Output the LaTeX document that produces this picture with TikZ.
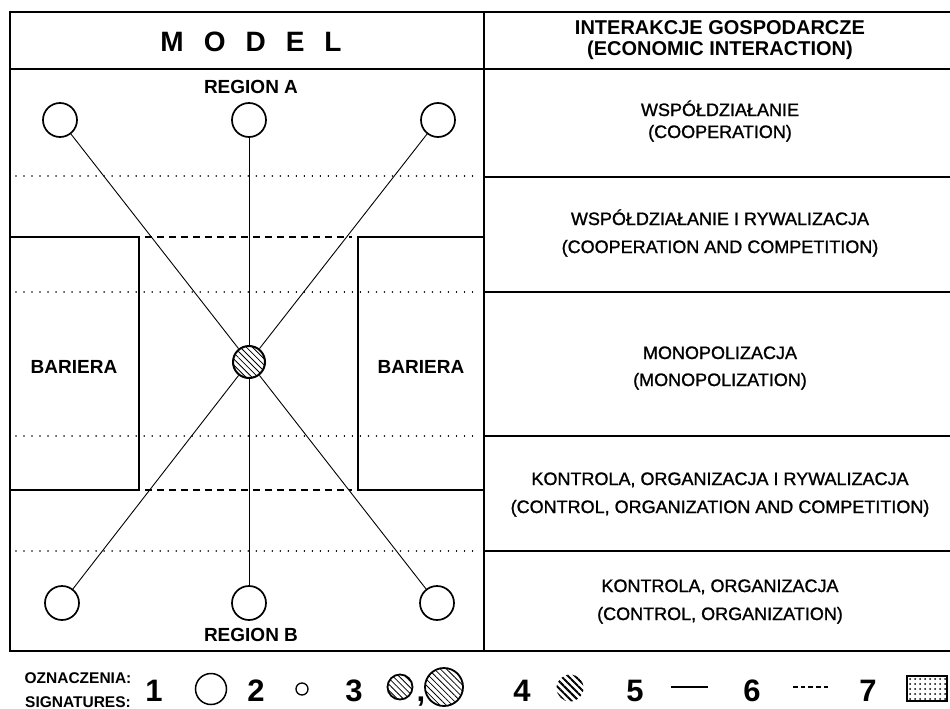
\documentclass[tikz,border=0pt]{standalone}
\usepackage{fontspec}
\setmainfont{Liberation Sans}
\newfontfamily\semib[FakeBold=1.2]{Liberation Sans}
\usetikzlibrary{patterns.meta}
\begin{document}
\begin{tikzpicture}[x=1pt,y=-1pt,
  frame/.style={line width=2.4pt},
  rowline/.style={line width=1.4pt},
  barbox/.style={draw,line width=2pt},
  reg/.style={circle,draw,line width=1.7pt,minimum size=34pt,inner sep=0pt,fill=white},
  link/.style={line width=0.9pt},
  dotline/.style={line width=1.6pt,dash pattern=on 0.01pt off 8pt,line cap=round},
  dashline/.style={line width=1.8pt,dash pattern=on 7pt off 5pt},
  hatch/.style={circle,draw,inner sep=0pt,preaction={fill=white},pattern={Lines[angle=-45,distance=4.3pt,line width=0.8pt]}},
  lbl/.style={font=\bfseries\fontsize{19}{22}\selectfont,anchor=base,inner sep=0pt},
  head/.style={font=\bfseries\fontsize{20}{22}\selectfont,anchor=base,inner sep=0pt},
  rtxt/.style={font=\semib\fontsize{18}{21}\selectfont,anchor=base,inner sep=0pt},
  num/.style={font=\bfseries\fontsize{31}{33}\selectfont,anchor=base,inner sep=0pt},
  leg/.style={font=\bfseries\fontsize{15.5}{18}\selectfont,anchor=base,inner sep=0pt}
]
\useasboundingbox (0,0) rectangle (950,709);
% frame
\draw[frame] (951,12) -- (10,12) -- (10,651) -- (951,651);
\draw[frame] (484,12) -- (484,651);
\draw[frame] (10,69) -- (951,69);
% right rows
\foreach \yy in {177,292,436,551} \draw[rowline] (484,\yy) -- (951,\yy);
% left dotted
\foreach \yy in {176,292,436,551} \draw[dotline] (16,\yy) -- (480,\yy);
% barriers
\draw[barbox] (10,237) rectangle (139,490);
\draw[barbox] (358,237) rectangle (484,490);
\draw[dashline] (145,237) -- (352,237);
\draw[dashline] (145,490) -- (352,490);
% regions
\node[reg] (tl) at (60,120) {};
\node[reg] (tm) at (249,120) {};
\node[reg] (tr) at (438,120) {};
\node[reg] (bl) at (62,603) {};
\node[reg] (bm) at (249,603) {};
\node[reg] (br) at (437,603) {};
\node[hatch,line width=2pt,minimum size=32pt] (c) at (249,362) {};
\draw[link] (tl) -- (c); \draw[link] (c) -- (br);
\draw[link] (tr) -- (c); \draw[link] (c) -- (bl);
\draw[link] (tm) -- (c); \draw[link] (c) -- (bm);
% left texts
\node[font=\bfseries\fontsize{28}{30}\selectfont,anchor=base,inner sep=0pt] (model) at (251,52) {M\hspace{20pt}O\hspace{20pt}D\hspace{20pt}E\hspace{20pt}L};
\node[lbl] (ra) at (251,93) {REGION A};
\node[lbl] (rb) at (251,641) {REGION B};
\node[lbl] (b1) at (74,373) {BARIERA};
\node[lbl] (b2) at (421,373) {BARIERA};
% right texts
\node[head] (h1) at (720,35) {INTERAKCJE GOSPODARCZE};
\node[head] (h2) at (720,56) {(ECONOMIC INTERACTION)};
\node[rtxt] (r1a) at (720,116) {WSPÓŁDZIAŁANIE};
\node[rtxt] (r1b) at (720,138) {(COOPERATION)};
\node[rtxt] (r2a) at (720,225) {WSPÓŁDZIAŁANIE I RYWALIZACJA};
\node[rtxt] (r2b) at (720,253) {(COOPERATION AND COMPETITION)};
\node[rtxt] (r3a) at (720,359) {MONOPOLIZACJA};
\node[rtxt] (r3b) at (720,386) {(MONOPOLIZATION)};
\node[rtxt] (r4a) at (720,485) {KONTROLA, ORGANIZACJA I RYWALIZACJA};
\node[rtxt] (r4b) at (720,513) {(CONTROL, ORGANIZATION AND COMPETITION)};
\node[rtxt] (r5a) at (720,592) {KONTROLA, ORGANIZACJA};
\node[rtxt] (r5b) at (720,620) {(CONTROL, ORGANIZATION)};
% legend
\node[leg] (oz) at (78,683) {OZNACZENIA:};
\node[leg] (sg) at (78,707) {SIGNATURES:};
\node[num] (n1) at (154,701) {1};
\node[circle,draw,line width=1.5pt,minimum size=31pt,inner sep=0pt] (l1) at (211,689) {};
\node[num] (n2) at (256,701) {2};
\node[circle,draw,line width=1.3pt,minimum size=12pt,inner sep=0pt] (l2) at (302,689) {};
\node[num] (n3) at (354,701) {3};
\node[hatch,line width=1.8pt,minimum size=25pt] (l3a) at (400,687) {};
\node[num] (cm) at (421,701) {,};
\node[hatch,line width=1.8pt,minimum size=38pt] (l3b) at (444,687) {};
\node[num] (n4) at (522,701) {4};
\node[circle,inner sep=0pt,minimum size=27pt,pattern={Lines[angle=-45,distance=5pt,line width=2pt]}] (l4) at (570,688) {};
\node[num] (n5) at (635,701) {5};
\coordinate (l5a) at (671,687); \coordinate (l5b) at (708,687);
\draw[line width=1.4pt] (l5a) -- (l5b);
\node[num] (n6) at (752,701) {6};
\coordinate (l6a) at (793,687); \coordinate (l6b) at (830,687);
\draw[line width=1.2pt,dash pattern=on 4.5pt off 3.2pt] (l6a) -- (l6b);
\node[num] (n7) at (868,701) {7};
\node[draw,line width=1.2pt,minimum width=40pt,minimum height=25pt,inner sep=0pt,pattern={Dots[distance=5pt,radius=1pt]}] (l7) at (927,688.5) {};
\end{tikzpicture}
\end{document}
